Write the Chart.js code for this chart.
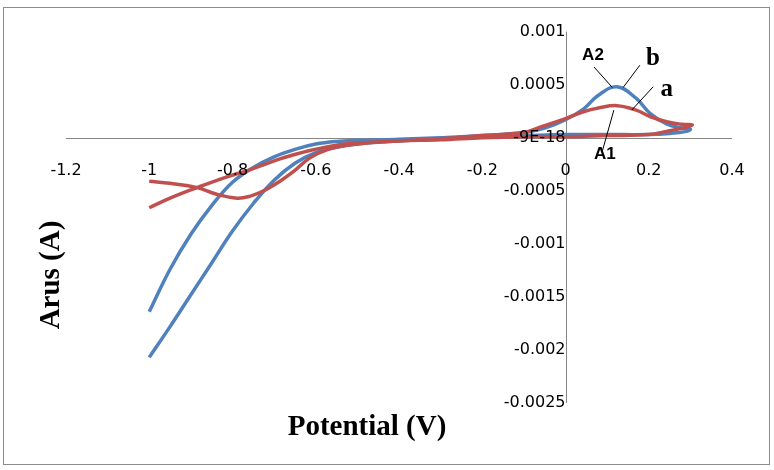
<!DOCTYPE html>
<html lang="en">
<head>
<meta charset="UTF-8" />
<title>Cyclic voltammogram</title>
<script src="https://cdn.jsdelivr.net/npm/chart.js"></script>
<style>
  body { margin: 0; background: #fff; }
  canvas { display: block; }
</style>
</head>
<body>
<canvas id="myChart" width="774" height="470"></canvas>
<script>
const xTicks = [-1.2, -1, -0.8, -0.6, -0.4, -0.2, 0, 0.2, 0.4]
const xTickLabels = ['-1.2', '-1', '-0.8', '-0.6', '-0.4', '-0.2', '0', '0.2', '0.4']
const yTicks = [-0.0025, -0.002, -0.0015, -0.001, -0.0005, 0, 0.0005, 0.001]
const yTickLabels = ['-0.0025', '-0.002', '-0.0015', '-0.001', '-0.0005', '-9E-18', '0.0005', '0.001']

// curve b (blue), one full sweep
const potentialB = [-1.0, -0.95, -0.9, -0.85, -0.8, -0.75, -0.7, -0.65, -0.6, -0.55, -0.5, -0.4, -0.3, -0.2, -0.1, -0.05, 0, 0.043, 0.079, 0.124, 0.17, 0.203, 0.243, 0.28, 0.3,
    0.29, 0.25, 0.2, 0.1, 0, -0.1, -0.2, -0.3, -0.4, -0.5, -0.55, -0.6, -0.65, -0.7, -0.75, -0.8, -0.85, -0.9, -0.95, -1.0]
const currentB = [-0.00164, -0.00124, -0.00091, -0.00064, -0.00042, -0.00028, -0.00018, -0.00011, -0.00006, -0.000035, -0.000025, -0.000015, 0, 0.00002, 0.00005, 0.00009, 0.00017, 0.00027, 0.0004, 0.00048, 0.00037, 0.00023, 0.00013, 0.00009, 0.00008,
    0.00006, 0.00004, 0.00003, 0.00003, 0.00003, 0.00002, 0.00001, -0.00001, -0.00003, -0.00006, -0.00009, -0.00014, -0.00024, -0.0004, -0.00062, -0.00088, -0.00118, -0.00148, -0.00178, -0.00207]

// curve a (red)
const potentialA = [-1.0, -0.95, -0.885, -0.84, -0.789, -0.757, -0.725, -0.686, -0.654, -0.614, -0.57, -0.52, -0.45, -0.4, -0.3, -0.2, -0.1, -0.061, 0, 0.043, 0.079, 0.124, 0.17, 0.203, 0.243, 0.28, 0.305,
    0.28, 0.243, 0.2, 0.1, 0, -0.1, -0.2, -0.3, -0.4, -0.5, -0.55, -0.614, -0.661, -0.686, -0.757, -0.822, -0.885, -0.95, -1.0]
const currentA = [-0.00041, -0.00043, -0.00047, -0.00053, -0.00057, -0.00055, -0.0005, -0.00041, -0.00032, -0.00019, -0.00011, -0.00007, -0.00004, -0.00003, -0.00001, 0.00002, 0.00005, 0.0001, 0.00018, 0.000245, 0.00028, 0.000302, 0.00026, 0.0002, 0.00015, 0.000126, 0.00012,
    0.00009, 0.00006, 0.00003, 0.00002, 0.00001, 0.00001, 0, -0.00002, -0.00003, -0.00005, -0.00007, -0.00012, -0.00017, -0.0002, -0.0003, -0.00038, -0.00047, -0.00057, -0.00066]

// peak labels with leader lines, in data units
const notes = [
    { text: 'A2', x: 0.066, y: 0.000773, from: [0.0684, 0.000667], to: [0.1126, 0.000473], font: 'bold 17px "Liberation Sans"' },
    { text: 'b', x: 0.21, y: 0.000745, from: [0.1786, 0.000683], to: [0.1384, 0.000473], font: 'bold 25px "Liberation Serif"' },
    { text: 'a', x: 0.2434, y: 0.000455, from: [0.2107, 0.00048], to: [0.159, 0.00026], font: 'bold 25px "Liberation Serif"' },
    { text: 'A1', x: 0.0946, y: -0.000155, from: [0.1162, 0.00026], to: [0.0883, -0.000129], font: 'bold 17px "Liberation Sans"' },
]

const toPoints = (xs, ys) => xs.map((x, i) => ({ x: x, y: ys[i] }))

// axis lines through the origin, drawn under the curves (labels go on top)
const axisLines = {
    id: 'axisLines',
    beforeDatasetsDraw(chart) {
        const { ctx, chartArea: a, scales: { x, y } } = chart
        const x0 = Math.round(x.getPixelForValue(0)) + 0.5
        const y0 = Math.round(y.getPixelForValue(0)) + 0.5
        ctx.save()
        ctx.strokeStyle = '#868686'
        ctx.lineWidth = 1
        ctx.beginPath()
        ctx.moveTo(a.left, y0)
        ctx.lineTo(a.right, y0)
        ctx.moveTo(x0, a.top)
        ctx.lineTo(x0, a.bottom)
        ctx.stroke()
        ctx.restore()
    },
}

const extras = {
    id: 'extras',
    afterDraw(chart) {
        const { ctx, scales: { x, y } } = chart
        ctx.save()
        ctx.strokeStyle = '#000'
        ctx.lineWidth = 1
        notes.forEach(n => {
            ctx.beginPath()
            ctx.moveTo(x.getPixelForValue(n.from[0]), y.getPixelForValue(n.from[1]))
            ctx.lineTo(x.getPixelForValue(n.to[0]), y.getPixelForValue(n.to[1]))
            ctx.stroke()
        })
        ctx.fillStyle = '#000'
        ctx.textAlign = 'center'
        ctx.textBaseline = 'middle'
        notes.forEach(n => {
            ctx.font = n.font
            ctx.fillText(n.text, x.getPixelForValue(n.x), y.getPixelForValue(n.y))
        })

        // axis titles
        ctx.font = 'bold 29px "Liberation Serif"'
        ctx.fillText('Potential (V)', 367, 428)
        ctx.translate(52, 275)
        ctx.rotate(-Math.PI / 2)
        ctx.fillText('Arus (A)', 0, 0)
        ctx.restore()

        // outer frame
        ctx.save()
        ctx.strokeStyle = '#8c8c8c'
        ctx.lineWidth = 1
        ctx.strokeRect(3.5, 7.5, 766, 457)
        ctx.restore()
    },
}

const tickFont = { family: '"DejaVu Sans"', size: 16 }

const config = {
    type: 'scatter',
    data: {
        datasets: [
            {
                label: 'a',
                data: toPoints(potentialA, currentA),
                borderColor: '#C0504D',
                borderWidth: 3.5,
                showLine: true,
                tension: 0.4,
                pointRadius: 0,
                pointHoverRadius: 0,
            },
            {
                label: 'b',
                data: toPoints(potentialB, currentB),
                borderColor: '#4F81BD',
                borderWidth: 3.5,
                showLine: true,
                tension: 0.4,
                pointRadius: 0,
                pointHoverRadius: 0,
            },
        ],
    },
    options: {
        responsive: false,
        animation: false,
        devicePixelRatio: 1,
        layout: { padding: { left: 66, right: 42, top: 27, bottom: 67 } },
        plugins: {
            legend: { display: false },
            tooltip: { enabled: false },
        },
        scales: {
            x: {
                type: 'linear',
                position: { y: 0 },
                min: -1.2,
                max: 0.4,
                afterBuildTicks: s => { s.ticks = xTicks.map(v => ({ value: v })) },
                ticks: {
                    callback: (v, i) => xTickLabels[i],
                    color: '#000',
                    font: tickFont,
                    padding: 24,
                    maxRotation: 0,
                    autoSkip: false,
                    z: 1,
                },
                grid: { display: false, drawTicks: false },
                border: { display: false },
            },
            y: {
                type: 'linear',
                position: { x: 0 },
                min: -0.0025,
                max: 0.001,
                afterBuildTicks: s => { s.ticks = yTicks.map(v => ({ value: v })) },
                ticks: {
                    callback: (v, i) => yTickLabels[i],
                    color: '#000',
                    font: tickFont,
                    padding: 22,
                    autoSkip: false,
                    z: 1,
                },
                grid: { display: false, drawTicks: false },
                border: { display: false },
            },
        },
    },
    plugins: [axisLines, extras],
}

const myChart = new Chart(document.getElementById('myChart'), config)
</script>
</body>
</html>
